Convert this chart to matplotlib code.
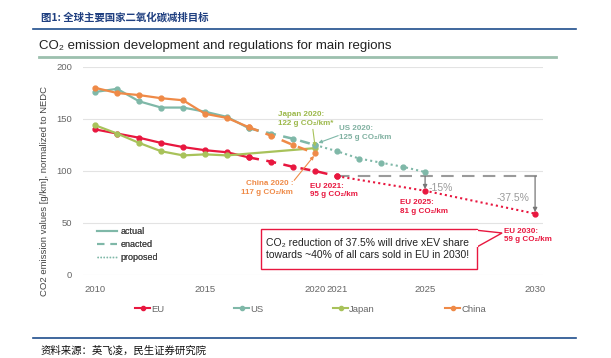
import matplotlib
matplotlib.use("Agg")
import matplotlib.pyplot as plt
import numpy as np
from matplotlib.lines import Line2D
from matplotlib.patches import Rectangle, Polygon

plt.rcParams['font.family'] = ['Liberation Sans', 'DejaVu Sans']

# ---------------- data ----------------
years_actual = [2010, 2011, 2012, 2013, 2014, 2015, 2016, 2017]
eu_actual = [140, 136, 132, 127, 123, 120, 118, 113]
us_actual = [176, 179, 167, 161, 161, 157, 152, 141]
china_actual = [180, 175, 173, 170, 168, 155, 151, 142]

japan_years = [2010, 2011, 2012, 2013, 2014, 2015, 2016, 2020]
japan_actual = [144, 136, 127, 119, 115, 116, 115, 122]

eu_enacted_years = [2017, 2018, 2019, 2020, 2021]
eu_enacted = [113, 109, 104, 100, 95]
eu_proposed_years = [2021, 2025, 2030]
eu_proposed = [95, 81, 59]

us_enacted_years = [2017, 2018, 2019, 2020]
us_enacted = [141, 136, 131, 125]
us_proposed_years = [2020, 2021, 2022, 2023, 2024, 2025]
us_proposed = [125, 119, 112, 108, 104, 99]

china_enacted_years = [2017, 2018, 2019, 2020]
china_enacted = [142, 134, 125, 117]

eu_target_2021 = 95
xticks = [2010, 2015, 2020, 2021, 2025, 2030]
yticks = [0, 50, 100, 150, 200]

C_EU = '#e8173f'
C_US = '#7fb8a8'
C_JP = '#a8c25a'
C_CN = '#ef8a47'
C_GRAY = '#9a9a9a'

W, H = 611, 358
fig = plt.figure(figsize=(W / 100, H / 100), dpi=100)
fig.patch.set_facecolor('white')

def fx(px):
    return px / W

def fy(py):
    return 1 - py / H

ax = fig.add_axes([fx(83), fy(275), fx(543) - fx(83), fy(67) - fy(275)])
ax.set_xlim(2009.45, 2030.36)
ax.set_ylim(0, 200)
for s in ax.spines.values():
    s.set_visible(False)
ax.set_xticks(xticks)
ax.set_yticks(yticks)
ax.tick_params(length=0, labelsize=6.8, colors='#666666')
ax.tick_params(axis='x', pad=7)
ax.tick_params(axis='y', pad=8)
ax.grid(axis='y', color='#e3e3e3', lw=0.8)
ax.set_axisbelow(True)

ms = 3.5
# actual
ax.plot(years_actual, eu_actual, color=C_EU, lw=1.6, marker='o', ms=ms, clip_on=False)
ax.plot(years_actual, us_actual, color=C_US, lw=1.6, marker='o', ms=ms, clip_on=False)
ax.plot(years_actual, china_actual, color=C_CN, lw=1.6, marker='o', ms=ms, clip_on=False)
ax.plot(japan_years, japan_actual, color=C_JP, lw=1.6, marker='o', ms=ms, clip_on=False)
# enacted
ax.plot(eu_enacted_years, eu_enacted, color=C_EU, lw=1.8, ls=(0, (4, 3)), marker='o', ms=ms)
ax.plot(us_enacted_years, us_enacted, color=C_US, lw=1.8, ls=(0, (4, 3)), marker='o', ms=ms)
ax.plot(china_enacted_years, china_enacted, color=C_CN, lw=1.8, ls=(0, (4, 3)), marker='o', ms=ms)
# proposed
ax.plot(eu_proposed_years, eu_proposed, color=C_EU, lw=1.5, ls=(0, (1, 1.5)), marker='o', ms=ms, clip_on=False)
ax.plot(us_proposed_years, us_proposed, color=C_US, lw=1.5, ls=(0, (1, 1.5)), marker='o', ms=ms)

# EU 2021 reference dashed line and reductions
ax.plot([2021, 2030.15], [eu_target_2021, eu_target_2021], color=C_GRAY, lw=1.5,
        ls=(0, (6, 4)), zorder=1, clip_on=False)
for xv, yv in [(2025, eu_proposed[1]), (2030, eu_proposed[2])]:
    ax.annotate('', xy=(xv, yv + 1.5), xytext=(xv, eu_target_2021),
                arrowprops=dict(arrowstyle='-|>', color='#777777', lw=0.9,
                                mutation_scale=6, shrinkA=0, shrinkB=0))
ax.text(2025.15, 88.5, '-15%', color=C_GRAY, fontsize=7.5, va='top', ha='left')
ax.text(2029.75, 79, '-37.5%', color=C_GRAY, fontsize=7.5, va='top', ha='right')

# labels
lab_fs = 5.8
ax.text(2019.77, 88.5, 'EU 2021:\n95 g CO₂/km', color=C_EU, fontsize=lab_fs,
        fontweight='bold', va='top', ha='left', linespacing=1.3)
ax.text(2023.86, 73, 'EU 2025:\n81 g CO₂/km', color=C_EU, fontsize=lab_fs,
        fontweight='bold', va='top', ha='left', linespacing=1.3)
ax.text(2028.6, 45.5, 'EU 2030:\n59 g CO₂/km', color=C_EU, fontsize=lab_fs,
        fontweight='bold', va='top', ha='left', linespacing=1.3)
ax.text(2018.3, 158, 'Japan 2020:\n122 g CO₂/km*', color='#9cb84a', fontsize=lab_fs,
        fontweight='bold', va='top', ha='left', linespacing=1.4)
ax.text(2021.1, 144, 'US 2020:\n125 g CO₂/km', color='#7fb0a0', fontsize=lab_fs,
        fontweight='bold', va='top', ha='left', linespacing=1.4)
ax.text(2019.0, 91, 'China 2020 :\n117 g CO₂/km', color=C_CN, fontsize=lab_fs,
        fontweight='bold', va='top', ha='right', linespacing=1.4)

ax.annotate('', xy=(2020.0, 123.5), xytext=(2019.9, 140),
            arrowprops=dict(arrowstyle='-|>', color=C_JP, lw=0.8, mutation_scale=5,
                            shrinkA=0, shrinkB=0))
ax.annotate('', xy=(2020.15, 127), xytext=(2021.05, 134),
            arrowprops=dict(arrowstyle='-|>', color=C_US, lw=0.8, mutation_scale=5,
                            shrinkA=0, shrinkB=0))
ax.annotate('', xy=(2019.95, 114.5), xytext=(2019.05, 91),
            arrowprops=dict(arrowstyle='-|>', color=C_CN, lw=0.8, mutation_scale=5,
                            shrinkA=0, shrinkB=0))

# callout box
bx0, bx1, by0, by1 = 2017.55, 2027.36, 6, 44
rect = Rectangle((bx0, by0), bx1 - bx0, by1 - by0, facecolor='white', edgecolor=C_EU,
                 lw=1.0, zorder=5)
ax.add_patch(rect)
tail = Polygon([[bx1, 43], [2028.5, 40.4], [bx1, 27]], closed=False, facecolor='white',
               edgecolor=C_EU, lw=1.0, zorder=6)
ax.add_patch(tail)
ax.plot([bx1, bx1], [27.6, 42.4], color='white', lw=1.4, zorder=7)
ax.text(bx0 + 0.22, 25, 'CO₂ reduction of 37.5% will drive xEV share\ntowards ~40% of all cars sold in EU in 2030!',
        fontsize=7.5, color='#222222', va='center', ha='left', zorder=8, linespacing=1.35)

# style legend
style_handles = [Line2D([], [], color=C_US, lw=1.5, ls='-'),
                 Line2D([], [], color=C_US, lw=1.5, ls=(0, (3.5, 3))),
                 Line2D([], [], color=C_US, lw=1.0, ls=(0, (1, 1.2)))]
leg1 = ax.legend(style_handles, ['actual', 'enacted', 'proposed'], loc='upper left',
                 bbox_to_anchor=(fx(97), fy(227)), bbox_transform=fig.transFigure,
                 frameon=False, fontsize=6.5, handlelength=2.2, labelspacing=0.45,
                 handletextpad=0.4, borderaxespad=0, borderpad=0)
for t in leg1.get_texts():
    t.set_color('#444444')
ax.add_artist(leg1)

# series legend
series_handles = [Line2D([], [], color=c, lw=1.5, marker='o', ms=3)
                  for c in [C_EU, C_US, C_JP, C_CN]]
leg2 = fig.legend(series_handles, ['EU', 'US', 'Japan', 'China'], loc='center left',
                  bbox_to_anchor=(fx(135), fy(309)), frameon=False, ncol=4,
                  fontsize=6.8, handlelength=1.6, handletextpad=0.1,
                  columnspacing=7.4, borderaxespad=0, borderpad=0)
for t in leg2.get_texts():
    t.set_color('#666666')

# y label
fig.text(fx(45), fy(191), 'CO2 emission values [g/km], normalized to NEDC', rotation=90,
         fontsize=6.8, color='#444444', ha='center', va='center')

# title and decorations
fig.text(fx(39), fy(46), 'CO₂ emission development and regulations for main regions',
         fontsize=9.5, color='#222222', ha='left', va='center')
fig.add_artist(Line2D([fx(39), fx(556)], [fy(57), fy(57)], color='#9cc0ae', lw=2.0))

fig.text(fx(41), fy(17), '图1: 全球主要国家二氧化碳减排目标', fontsize=7.5, color='#1f3f80',
         fontweight='bold', ha='left', va='center',
         family=['Noto Sans CJK SC', 'DejaVu Sans'])
fig.add_artist(Line2D([fx(33), fx(576)], [fy(28.5), fy(28.5)], color='#1f4e8c', lw=1.2))
fig.add_artist(Line2D([fx(33), fx(576)], [fy(338), fy(338)], color='#1f4e8c', lw=1.2))
fig.text(fx(41), fy(351), '资料来源：英飞凌，民生证券研究院', fontsize=7.5, color='#111111',
         ha='left', va='center', family=['Noto Sans CJK SC', 'DejaVu Sans'])

fig.savefig('out.png', dpi=100)
